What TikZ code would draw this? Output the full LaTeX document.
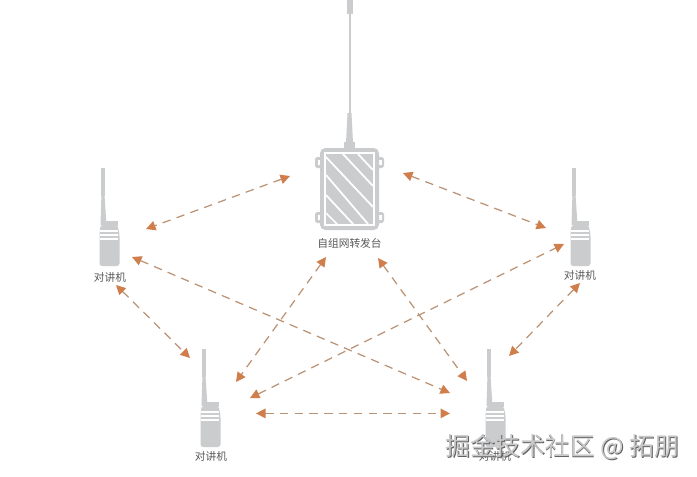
\documentclass[tikz,border=0pt]{standalone}
\usepackage{fontspec}
\newfontfamily\cjk{Noto Sans CJK SC}
\usetikzlibrary{arrows.meta}
\definecolor{part_gray}{HTML}{CACCCE}
\definecolor{arrow_orange}{HTML}{D07F4C}
\definecolor{dash_brown}{HTML}{BC9274}

\begin{document}
\begin{tikzpicture}[x=0.02cm, y=-0.02cm,
        label_style/.style={font=\cjk\fontsize{6.1}{7}\selectfont, text=black!65, inner sep=0pt},
        edge_style/.style={draw=dash_brown, line width=0.7pt, dash pattern=on 4.8pt off 3.6pt,
            {Triangle[length=1.9mm,width=1.9mm,color=arrow_orange]}-{Triangle[length=1.9mm,width=1.9mm,color=arrow_orange]}},
        mark_style/.style={font=\cjk\fontsize{14.2}{15}\selectfont, inner sep=0pt},
        radio_pic/.pic={
            \fill [part_gray] (-1.6,0) rectangle (1.6,28);
            \fill [part_gray] (-1.6,28) -- (1.6,28) -- (3.5,57) -- (-2.5,57) -- cycle;
            \fill [part_gray] (3,53) rectangle (15,58);
            \fill [part_gray, rounded corners=1.5pt] (-2.5,57) -- (14.5,57) -- (16.5,66) -- (16.5,98) -- (-3.5,98) -- (-3.5,66) -- cycle;
            \fill [white] (-3,62) rectangle (15,63.5);
            \fill [white] (-3,66) rectangle (15,67.5);
            \fill [white] (-3,70) rectangle (15,71.5);
        }]

        \useasboundingbox (0,0) rectangle (697,477);
        \fill [white] (0,0) rectangle (697,477);

        % relay
        \fill [part_gray] (348.6,14) rectangle (350.6,115);
        \fill [part_gray] (347,0) rectangle (352.5,14);
        \fill [part_gray] (347.5,113) -- (351.5,113) -- (353,143) -- (346,143) -- cycle;
        \fill [part_gray] (344,142) rectangle (355,149);
        \fill [part_gray, rounded corners=1pt] (315,157) rectangle (384,168);
        \fill [part_gray, rounded corners=1pt] (315,212) rectangle (384,223);
        \fill [white] (317.5,160) rectangle (320,165);
        \fill [white] (379,160) rectangle (381.5,165);
        \fill [white] (317.5,215) rectangle (320,220);
        \fill [white] (379,215) rectangle (381.5,220);
        \fill [part_gray, rounded corners=3pt] (320,148) rectangle (379,230);
        \fill [white] (324,152) rectangle (375,226);
        \begin{scope}
            \clip (326,154) rectangle (373,224);
            \fill [part_gray] (326,154) rectangle (373,224);
            \draw [white, line width=1pt] (358,154) -- (373,170);
            \draw [white, line width=1pt] (343,154) -- (373,186);
            \draw [white, line width=1pt] (326,157) -- (373,207);
            \draw [white, line width=1pt] (326,175) -- (368,224);
            \draw [white, line width=1pt] (326,195) -- (353,224);
            \draw [white, line width=1pt] (326,213) -- (337,224);
        \end{scope}
        \node [label_style](relay_label) at (349.5,243) {自组网转发台};

        % radios
        \pic at (103,168) {radio_pic};
        \pic at (574,168) {radio_pic};
        \pic at (204,349) {radio_pic};
        \pic at (489,349) {radio_pic};
        \node [label_style](left_label) at (110,277) {对讲机};
        \node [label_style](right_label) at (580,275) {对讲机};
        \node [label_style](low_left_label) at (211,456) {对讲机};
        \node [label_style](low_right_label) at (495,456) {对讲机};

        % arrow ends
        \coordinate (a1) at (290,176);
        \coordinate (a2) at (146,229);
        \coordinate (b1) at (403,173);
        \coordinate (b2) at (546,228);
        \coordinate (c1) at (326,257);
        \coordinate (c2) at (236,382);
        \coordinate (d1) at (378,258);
        \coordinate (d2) at (467,381);
        \coordinate (e1) at (256,413.4);
        \coordinate (e2) at (450,413.4);
        \coordinate (f1) at (132,257);
        \coordinate (f2) at (450,393);
        \coordinate (g1) at (250,398);
        \coordinate (g2) at (564,244);
        \coordinate (h1) at (116,285);
        \coordinate (h2) at (190,358);
        \coordinate (k1) at (580,283);
        \coordinate (k2) at (509,356);
        \draw [edge_style] (a1) -- (a2);
        \draw [edge_style] (b1) -- (b2);
        \draw [edge_style] (c1) -- (c2);
        \draw [edge_style] (d1) -- (d2);
        \draw [edge_style] (e1) -- (e2);
        \draw [edge_style] (f1) -- (f2);
        \draw [edge_style] (g1) -- (g2);
        \draw [edge_style] (h1) -- (h2);
        \draw [edge_style] (k1) -- (k2);

        % watermark
        \node [mark_style, text=black!62, anchor=west](mark_shadow) at (445.8,447.8) {掘金技术社区 @ 拓朋};
        \node [mark_style, text=black!22, anchor=west](mark_text) at (445,447) {掘金技术社区 @ 拓朋};
\end{tikzpicture}
\end{document}
